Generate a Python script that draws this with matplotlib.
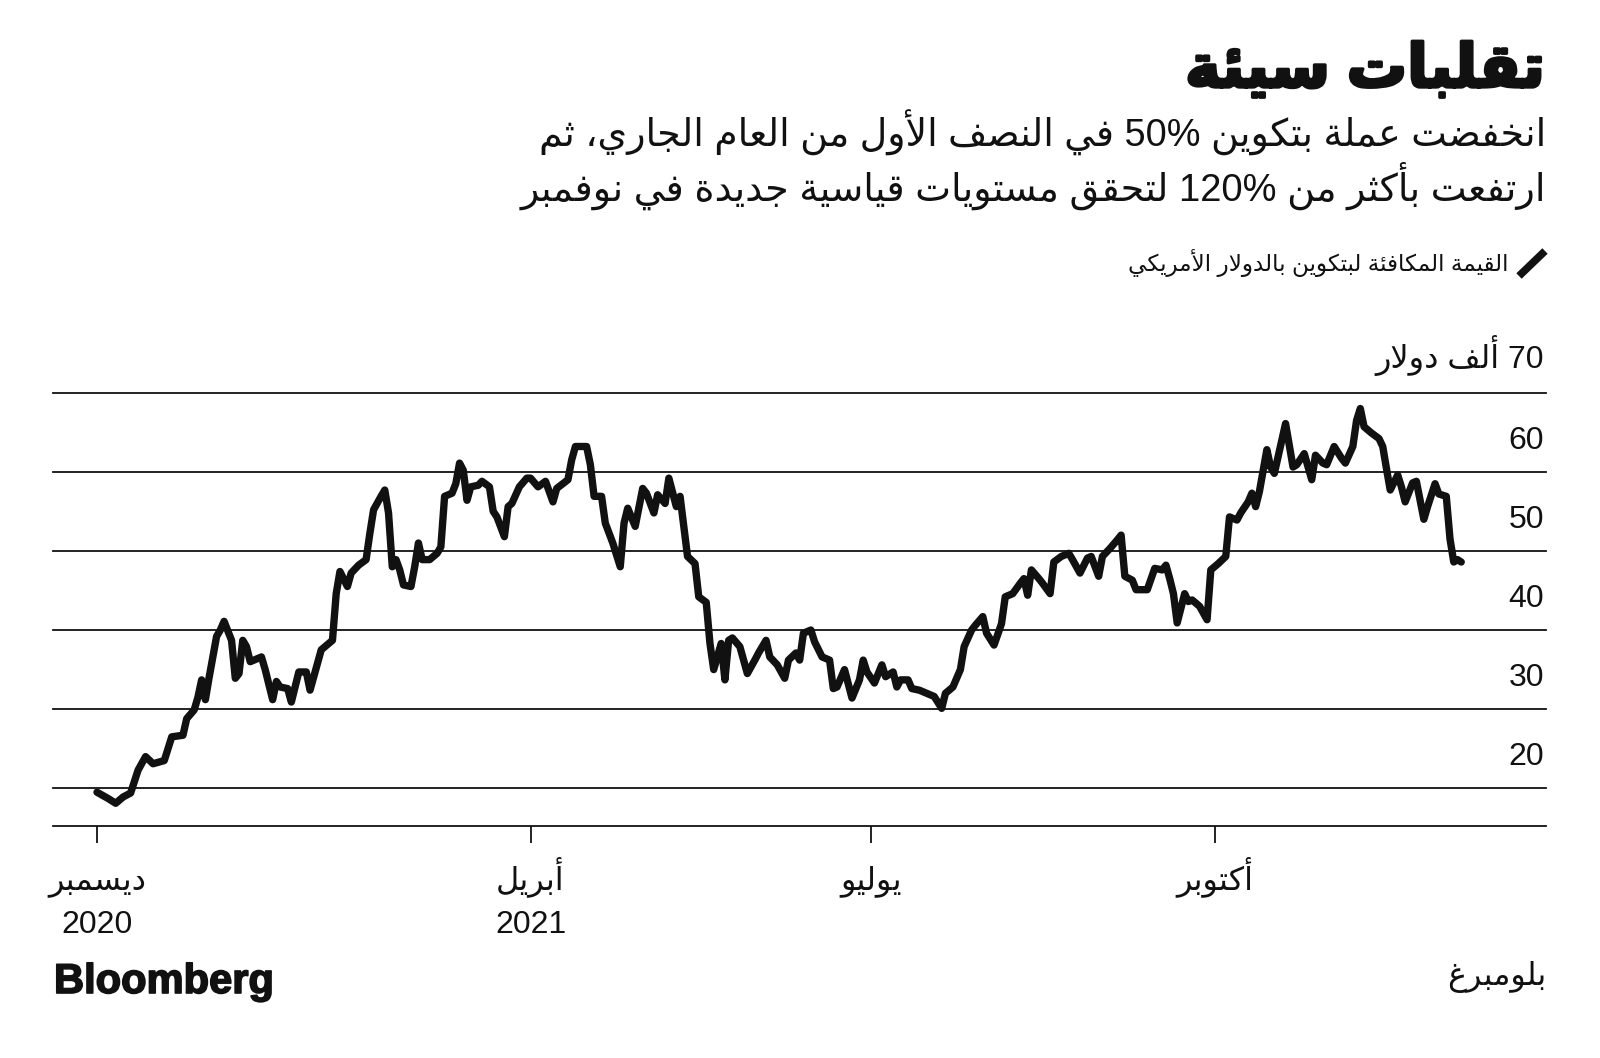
import matplotlib
matplotlib.use("Agg")
import matplotlib.pyplot as plt
import matplotlib.dates as mdates
import matplotlib.transforms as mtrans
import matplotlib.patheffects as pe
from matplotlib.lines import Line2D
import pandas as pd

# ---------------- data ----------------
start_date = "2020-12-06"
day_offset = [0, 3, 5, 7, 9, 11, 13, 15, 18, 20, 23, 24, 26, 27, 28, 29, 30, 32, 33, 34,
              36, 37, 38, 39, 40, 41, 44, 45, 47, 48, 49, 51, 52, 54, 56, 57, 58, 60, 62, 63,
              64, 65, 67, 68, 70, 72, 73, 74, 76, 77, 78, 79, 80, 81, 82, 84, 85, 86, 87, 89,
              91, 92, 93, 95, 96, 97, 98, 99, 100, 102, 103, 105, 106, 107, 109, 110, 111, 113, 115, 116,
              118, 120, 122, 123, 126, 127, 128, 131, 132, 133, 135, 136, 138, 140, 141, 142, 144, 146, 147, 149,
              150, 152, 153, 155, 156, 157, 158, 160, 161, 163, 164, 165, 167, 168, 169, 170, 172, 174, 176, 177,
              179, 180, 182, 184, 185, 187, 188, 189, 191, 192, 194, 196, 197, 198, 200, 202, 204, 205, 206, 208,
              210, 211, 213, 214, 215, 217, 218, 220, 222, 224, 226, 227, 229, 231, 232, 234, 235, 237, 238, 240,
              242, 243, 245, 247, 248, 249, 250, 252, 253, 255, 256, 258, 260, 261, 263, 265, 266, 268, 269, 271,
              273, 274, 275, 277, 278, 281, 283, 285, 286, 287, 288, 289, 291, 292, 293, 295, 297, 298, 300, 302,
              303, 305, 306, 308, 309, 310, 311, 313, 314, 315, 318, 320, 321, 323, 325, 326, 328, 329, 331, 333,
              334, 336, 337, 338, 339, 341, 343, 344, 345, 346, 348, 349, 350, 352, 353, 355, 356, 358, 359, 361,
              362, 363, 364, 365]
price_k = [19.5, 18.7, 18.1, 18.9, 19.4, 22.3, 24.0, 23.1, 23.5, 26.5, 26.7, 28.8, 29.9, 31.5, 33.7, 31.2, 34.0, 39.2, 40.0, 41.1,
           38.7, 33.9, 34.5, 38.7, 37.9, 36.0, 36.6, 35.0, 31.2, 33.5, 32.8, 32.6, 30.9, 34.7, 34.7, 32.4, 34.1, 37.5, 38.3, 38.7,
           44.6, 47.4, 45.5, 47.2, 48.2, 48.9, 52.2, 55.2, 56.9, 57.7, 54.8, 48.0, 48.9, 47.6, 45.7, 45.5, 48.0, 51.0, 48.9, 48.9,
           49.7, 50.5, 56.9, 57.3, 58.5, 61.1, 60.2, 56.4, 58.1, 58.3, 58.8, 58.1, 55.0, 54.3, 51.8, 55.6, 56.0, 58.1, 59.2, 59.2,
           58.1, 58.8, 56.2, 57.9, 59.0, 61.5, 63.2, 63.2, 60.9, 56.9, 56.9, 53.5, 51.0, 48.0, 53.5, 55.4, 53.1, 57.9, 57.3, 54.8,
           57.1, 56.0, 59.2, 55.6, 56.9, 53.1, 49.3, 48.4, 44.2, 43.5, 38.3, 35.0, 38.3, 33.7, 38.7, 39.0, 37.9, 34.5, 36.2, 37.1,
           38.7, 36.6, 35.6, 33.9, 36.2, 37.1, 36.2, 39.6, 40.0, 38.5, 36.6, 36.2, 32.6, 32.8, 35.0, 31.4, 33.7, 36.2, 34.7, 33.3,
           35.6, 34.1, 34.7, 32.8, 33.7, 33.7, 32.6, 32.4, 32.0, 31.6, 30.1, 32.0, 32.8, 35.0, 37.9, 40.0, 40.6, 41.7, 39.6, 38.1,
           40.8, 44.2, 44.6, 45.9, 46.5, 44.4, 47.6, 46.5, 45.9, 44.6, 48.6, 49.3, 49.7, 48.9, 47.2, 49.1, 49.3, 46.8, 49.3, 50.3,
           51.4, 52.0, 46.8, 46.3, 45.1, 45.1, 47.8, 47.6, 48.2, 46.5, 44.6, 40.9, 44.6, 43.6, 43.8, 43.0, 41.3, 47.6, 48.4, 49.3,
           54.3, 53.9, 54.8, 56.2, 57.3, 55.6, 57.5, 62.8, 60.6, 59.8, 66.1, 60.6, 60.9, 62.3, 59.0, 62.1, 61.1, 60.9, 63.2, 61.7,
           61.1, 63.2, 66.5, 68.0, 65.7, 64.9, 64.2, 63.2, 60.4, 57.7, 59.6, 58.1, 56.2, 58.6, 58.8, 54.0, 55.6, 58.5, 57.2, 56.9,
           51.5, 48.6, 48.9, 48.6]

y_ticks = [20, 30, 40, 50, 60]
y_top = 70
x_tick_dates = ["2020-12-06", "2021-04-01", "2021-07-01", "2021-10-01"]
x_tick_months = ["ديسمبر", "أبريل", "يوليو", "أكتوبر"]
x_tick_years = ["2020", "2021", "", ""]

title_text = "تقلبات سيئة"
subtitle_lines = ["انخفضت عملة بتكوين 50% في النصف الأول من العام الجاري، ثم",
                  "ارتفعت بأكثر من 120% لتحقق مستويات قياسية جديدة في نوفمبر"]
legend_text = "القيمة المكافئة لبتكوين بالدولار الأمريكي"
unit_text = "70 ألف دولار"
source_text = "بلومبرغ"
brand_text = "Bloomberg"

# ---------------- minimal Arabic shaping (matplotlib has no shaping engine) ----------------
DUAL = {'ئ': 0xFE89, 'ب': 0xFE8F, 'ت': 0xFE95, 'ث': 0xFE99, 'ج': 0xFE9D, 'ح': 0xFEA1, 'خ': 0xFEA5,
        'س': 0xFEB1, 'ش': 0xFEB5, 'ص': 0xFEB9, 'ض': 0xFEBD, 'ط': 0xFEC1, 'ظ': 0xFEC5, 'ع': 0xFEC9,
        'غ': 0xFECD, 'ف': 0xFED1, 'ق': 0xFED5, 'ك': 0xFED9, 'ل': 0xFEDD, 'م': 0xFEE1, 'ن': 0xFEE5,
        'ه': 0xFEE9, 'ي': 0xFEF1}
RIGHT = {'آ': 0xFE81, 'أ': 0xFE83, 'ؤ': 0xFE85, 'إ': 0xFE87, 'ا': 0xFE8D, 'ة': 0xFE93, 'د': 0xFEA9,
         'ذ': 0xFEAB, 'ر': 0xFEAD, 'ز': 0xFEAF, 'و': 0xFEED, 'ى': 0xFEEF}
LAMALEF = {'آ': 0xFEF5, 'أ': 0xFEF7, 'إ': 0xFEF9, 'ا': 0xFEFB}


def shape_word(word):
    toks = []
    i = 0
    while i < len(word):
        c = word[i]
        if c == 'ل' and i + 1 < len(word) and word[i + 1] in LAMALEF:
            toks.append(('LA', word[i + 1]))
            i += 2
        else:
            toks.append(('C', c))
            i += 1
    out = []
    for k, (kind, c) in enumerate(toks):
        prev = toks[k - 1] if k > 0 else None
        nxt = toks[k + 1] if k + 1 < len(toks) else None
        pj = prev is not None and prev[0] == 'C' and prev[1] in DUAL
        nj = nxt is not None and (nxt[0] == 'LA' or nxt[1] in DUAL or nxt[1] in RIGHT)
        if kind == 'LA':
            out.append(chr(LAMALEF[c] + (1 if pj else 0)))
        elif c in DUAL:
            b = DUAL[c]
            if pj and nj:
                out.append(chr(b + 3))
            elif pj:
                out.append(chr(b + 1))
            elif nj:
                out.append(chr(b + 2))
            else:
                out.append(chr(b))
        elif c in RIGHT:
            out.append(chr(RIGHT[c] + (1 if pj else 0)))
        elif c == 'ء':
            out.append(chr(0xFE80))
        else:
            out.append(c)
    return ''.join(out)


def ar(line):
    words = line.split(' ')
    res = []
    for w in words:
        if any('\u0600' <= ch <= '\u06FF' for ch in w):
            res.append(shape_word(w)[::-1])
        else:
            res.append(w)
    return ' '.join(res[::-1])


# ---------------- figure ----------------
W, H = 1600, 1058
FAM = ['Liberation Sans', 'DejaVu Sans']
plt.rcParams['font.family'] = FAM
INK = '#111111'
fig = plt.figure(figsize=(W / 100, H / 100), dpi=100, facecolor='white')

ax_left, ax_right, ax_top, ax_bot = 52.7, 1545.7, 392.7, 826.0
ax = fig.add_axes([ax_left / W, 1 - ax_bot / H, (ax_right - ax_left) / W, (ax_bot - ax_top) / H])
ax.set_facecolor('white')

t0 = pd.Timestamp(start_date)
dates = t0 + pd.to_timedelta(day_offset, unit='D')
ax.plot(dates, price_k, color=INK, lw=5.3, solid_joinstyle='round', solid_capstyle='round', zorder=3)

x0 = mdates.date2num(t0)
ax.set_xlim(x0 - 11.85, x0 + 387.6)
ax.set_ylim(15.23, y_top)

for v in y_ticks + [y_top]:
    ax.axhline(v, color=INK, lw=1.3, zorder=1, clip_on=False)

for s in ['top', 'right', 'left']:
    ax.spines[s].set_visible(False)
ax.spines['bottom'].set_color(INK)
ax.spines['bottom'].set_linewidth(1.3)
ax.set_yticks([])
ax.set_xticks(mdates.date2num(pd.to_datetime(x_tick_dates)))
ax.tick_params(axis='x', length=12, width=1.3, color=INK, labelbottom=False)

LAB = 23
# y labels (above each gridline, right aligned)
for v in y_ticks:
    ax.annotate(str(v), xy=(1, v), xycoords=('axes fraction', 'data'), xytext=(-1, 16.5),
                textcoords='offset points', ha='right', va='baseline', fontsize=LAB, color=INK)
ax.annotate(ar(unit_text), xy=(1, y_top), xycoords=('axes fraction', 'data'), xytext=(-1, 17.5),
            textcoords='offset points', ha='right', va='baseline', fontsize=LAB, color=INK)

# x labels
btrans = mtrans.blended_transform_factory(ax.transData, fig.transFigure)
for d, m, yr in zip(x_tick_dates, x_tick_months, x_tick_years):
    xd = mdates.date2num(pd.Timestamp(d))
    ax.text(xd, 1 - 889 / H, ar(m), transform=btrans, ha='center', va='baseline', fontsize=LAB, color=INK)
    if yr:
        ax.text(xd, 1 - 933 / H, yr, transform=btrans, ha='center', va='baseline', fontsize=LAB, color=INK)

renderer = fig.canvas.get_renderer()


def ftext(x, y, s, size, ha='right', weight='normal', fit=None, stroke=None):
    t = fig.text(x / W, 1 - y / H, s, fontsize=size, ha=ha, va='baseline', weight=weight, color=INK)
    if fit:
        w = t.get_window_extent(renderer).width
        ns = size * fit / w
        ns = max(size * 0.8, min(size * 1.25, ns))
        t.set_fontsize(ns)
    if stroke:
        t.set_path_effects([pe.withStroke(linewidth=stroke, foreground=INK)])
    return t


ftext(1544, 87, ar(title_text), 40, weight='bold', fit=360, stroke=2.4)
ftext(1546, 147, ar(subtitle_lines[0]), 25, fit=1005)
ftext(1546, 201, ar(subtitle_lines[1]), 25, fit=1026)
ftext(1508, 271, ar(legend_text), 14, fit=385)
fig.add_artist(Line2D([1519 / W, 1545 / W], [1 - 276 / H, 1 - 251 / H], transform=fig.transFigure,
                      color=INK, lw=5.5, solid_capstyle='butt'))

ftext(54, 993, brand_text, 30, ha='left', weight='bold', stroke=1.2)
ftext(1546, 985, ar(source_text), 20, fit=99)

fig.savefig('out.png', dpi=100, facecolor='white')
